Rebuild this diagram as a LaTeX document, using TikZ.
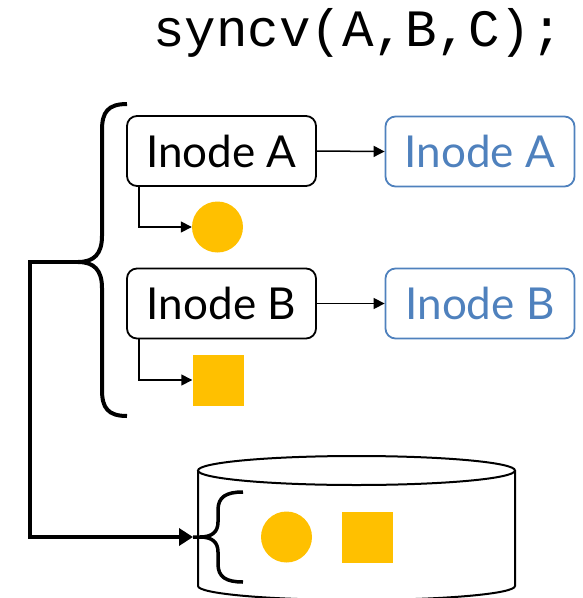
\documentclass[tikz,border=0pt]{standalone}
\usepackage{fontspec}
\setmainfont{Lato}
\newfontfamily\codefont{Liberation Mono}
\usetikzlibrary{arrows.meta}
\definecolor{gold}{HTML}{FFC000}
\definecolor{steel}{HTML}{4F81BD}
\begin{document}
\begin{tikzpicture}[x=1pt,y=-1pt,
  inodebox/.style={draw=black,line width=1.8pt,rounded corners=10pt,
    minimum width=189pt,minimum height=70pt,inner sep=0pt,
    font=\fontsize{44}{48}\selectfont},
  copybox/.style={inodebox,draw=steel,text=steel},
  blob/.style={fill=gold,draw=none,circle,minimum size=51pt,inner sep=0pt},
  block/.style={fill=gold,draw=none,rectangle,minimum size=51pt,inner sep=0pt},
  link/.style={line width=1.5pt,-{Triangle[length=11pt,width=11pt]}},
  heavy/.style={line width=4pt,-{Triangle[length=14pt,width=17pt]}},
  brace/.style={line width=4pt},
  disk/.style={line width=2pt}]
\useasboundingbox (0,0) rectangle (582,598);

% call being performed
\node[anchor=base west,inner sep=0pt,font=\codefont\fontsize{52.5}{56}\selectfont]
  (call) at (153,46) {syncv(A,B,C);};

% in-memory inodes and their on-disk copies
\node[inodebox] (ia) at (221.5,151) {Inode A};
\node[inodebox] (ib) at (221.5,303.5) {Inode B};
\node[copybox] (ca) at (480,151.5) {Inode A};
\node[copybox] (cb) at (480,303.5) {Inode B};
\draw[link] (ia.east) -- (ca.west);
\draw[link] (ib.east) -- (cb.west);

% dirty data of each inode
\node[blob] (da) at (217.5,227) {};
\node[block] (db) at (218,380) {};
\draw[link] (ia.south west) ++(13,0) |- (da.west);
\draw[link] (ib.south west) ++(13,0) |- (db.west);

% brace grouping both inodes
\coordinate (bigtip) at (78,262);
\draw[brace] (127,104) .. controls (108,104) and (102,112) .. (102,130)
  -- (102,236) .. controls (102,254) and (94,262) .. (bigtip)
  .. controls (94,262) and (102,270) .. (102,288)
  -- (102,390) .. controls (102,408) and (108,416) .. (127,416);

% disk: open bottom, top lid drawn last
\draw[disk] (198,471) -- (198,586)
  arc[start angle=180,end angle=360,x radius=158.5pt,y radius=14pt]
  -- (515,471);
\draw[disk,fill=white] (356.5,470.5) ellipse [x radius=158.5pt,y radius=14.5pt];

% data written to disk together
\coordinate (smalltip) at (193,537);
\draw[brace,line width=3.5pt] (243,492) .. controls (226,492) and (218,497) .. (218,510)
  -- (218,522) .. controls (218,532) and (212,537) .. (200,537) -- (smalltip)
  (200,537) .. controls (212,537) and (218,542) .. (218,552)
  -- (218,564) .. controls (218,577) and (226,582) .. (243,582);
\node[blob] (wa) at (286.5,537) {};
\node[block] (wb) at (367,537) {};

% the group is flushed to the disk
\draw[heavy] (bigtip) -- ++(-48,0) |- (smalltip);
\end{tikzpicture}
\end{document}
